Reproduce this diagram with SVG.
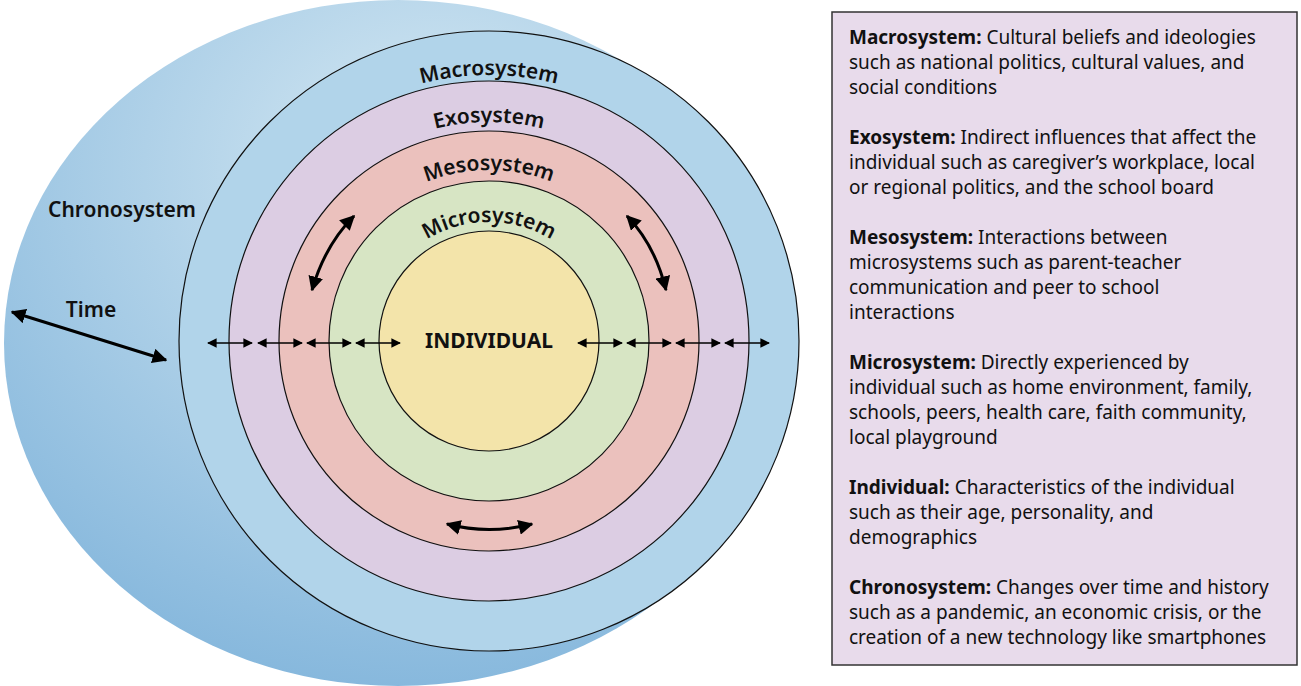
<svg xmlns="http://www.w3.org/2000/svg" width="1301" height="686" viewBox="0 0 1301 686">
<defs>
<radialGradient id="chg" cx="0.55" cy="0.25" r="0.85">
<stop offset="0" stop-color="#d6e9f3"/><stop offset="1" stop-color="#7db2da"/>
</radialGradient>
<marker id="ah" viewBox="0 0 10 10" refX="9" refY="5" markerWidth="5" markerHeight="5" orient="auto-start-reverse"><path d="M0,0 L10,5 L0,10 z" fill="#000"/></marker>
<marker id="as" viewBox="0 0 10 10" refX="9" refY="5" markerWidth="6" markerHeight="6" orient="auto-start-reverse"><path d="M0,0 L10,5 L0,10 z" fill="#000"/></marker>
<path id="p1" d="M223,341 A266,266 0 0 1 755,341"/>
<path id="p2" d="M270,341 A219,219 0 0 1 708,341"/>
<path id="p3" d="M318,341 A171,171 0 0 1 660,341"/>
<path id="p4" d="M370,341 A119,119 0 0 1 608,341"/>
</defs>
<style>
.ring{stroke:#111;stroke-width:1.2}
.lbl{font-family:"Noto Sans","Liberation Sans",sans-serif;font-weight:600;font-size:21px;fill:#111}
.t{font-family:"Noto Sans","Liberation Sans",sans-serif;font-size:19px;fill:#111}
.t tspan.b{font-weight:700}
.a{stroke:#000;stroke-width:1.6;fill:none}
.c{stroke:#000;stroke-width:3;fill:none}
</style>
<rect width="1301" height="686" fill="#fff"/>
<g id="chronosystem"><ellipse cx="398" cy="343" rx="394" ry="343" fill="url(#chg)"/>
<text class="lbl" x="122" y="217" text-anchor="middle">Chronosystem</text></g>
<g id="macrosystem"><circle class="ring" cx="489" cy="341" r="310" fill="#b1d4ea"/></g>
<g id="exosystem"><circle class="ring" cx="489" cy="341" r="260" fill="#dccde3"/></g>
<g id="mesosystem"><circle class="ring" cx="489" cy="341" r="210" fill="#ebc1bd"/></g>
<g id="microsystem"><circle class="ring" cx="489" cy="341" r="160" fill="#d7e5c4"/></g>
<g id="individual"><circle class="ring" cx="489" cy="341" r="110" fill="#f3e4aa"/>
<text class="lbl" x="489" y="348" text-anchor="middle" style="font-weight:700">INDIVIDUAL</text></g>
<g id="ring-labels">
<text class="lbl"><textPath href="#p1" startOffset="50%" text-anchor="middle">Macrosystem</textPath></text>
<text class="lbl"><textPath href="#p2" startOffset="50%" text-anchor="middle">Exosystem</textPath></text>
<text class="lbl"><textPath href="#p3" startOffset="50%" text-anchor="middle">Mesosystem</textPath></text>
<text class="lbl"><textPath href="#p4" startOffset="50%" text-anchor="middle">Microsystem</textPath></text>
<text class="lbl" x="91" y="317" text-anchor="middle">Time</text>
</g>
<g id="connectors">
<line class="a" x1="12" y1="312" x2="166" y2="360" style="stroke-width:3" marker-start="url(#ah)" marker-end="url(#ah)"/>
<g marker-start="url(#as)" marker-end="url(#as)">
<line class="a" x1="208" y1="343" x2="252" y2="343"/>
<line class="a" x1="258" y1="343" x2="302" y2="343"/>
<line class="a" x1="307" y1="343" x2="351" y2="343"/>
<line class="a" x1="356" y1="343" x2="400" y2="343"/>
<line class="a" x1="578" y1="343" x2="622" y2="343"/>
<line class="a" x1="627" y1="343" x2="671" y2="343"/>
<line class="a" x1="676" y1="343" x2="720" y2="343"/>
<line class="a" x1="725" y1="343" x2="769" y2="343"/>
</g>
<path class="c" d="M312,290 Q325,245 354,216" marker-start="url(#ah)" marker-end="url(#ah)"/>
<path class="c" d="M627,216 Q655,245 666,290" marker-start="url(#ah)" marker-end="url(#ah)"/>
<path class="c" d="M447,524 Q489,535 532,524" marker-start="url(#ah)" marker-end="url(#ah)"/>
</g>
<g id="legend">
<rect x="832" y="12" width="465" height="653" fill="#e8dbeb" stroke="#333" stroke-width="1.5"/>
<text class="t" x="849">
<tspan x="849" y="44"><tspan class="b">Macrosystem:</tspan> Cultural beliefs and ideologies</tspan>
<tspan x="849" y="69">such as national politics, cultural values, and</tspan>
<tspan x="849" y="94">social conditions</tspan>
<tspan x="849" y="144"><tspan class="b">Exosystem:</tspan> Indirect influences that affect the</tspan>
<tspan x="849" y="169">individual such as caregiver’s workplace, local</tspan>
<tspan x="849" y="194">or regional politics, and the school board</tspan>
<tspan x="849" y="244"><tspan class="b">Mesosystem:</tspan> Interactions between</tspan>
<tspan x="849" y="269">microsystems such as parent-teacher</tspan>
<tspan x="849" y="294">communication and peer to school</tspan>
<tspan x="849" y="319">interactions</tspan>
<tspan x="849" y="369"><tspan class="b">Microsystem:</tspan> Directly experienced by</tspan>
<tspan x="849" y="394">individual such as home environment, family,</tspan>
<tspan x="849" y="419">schools, peers, health care, faith community,</tspan>
<tspan x="849" y="444">local playground</tspan>
<tspan x="849" y="494"><tspan class="b">Individual:</tspan> Characteristics of the individual</tspan>
<tspan x="849" y="519">such as their age, personality, and</tspan>
<tspan x="849" y="544">demographics</tspan>
<tspan x="849" y="594"><tspan class="b">Chronosystem:</tspan> Changes over time and history</tspan>
<tspan x="849" y="619">such as a pandemic, an economic crisis, or the</tspan>
<tspan x="849" y="644">creation of a new technology like smartphones</tspan>
</text>
</g>
</svg>
